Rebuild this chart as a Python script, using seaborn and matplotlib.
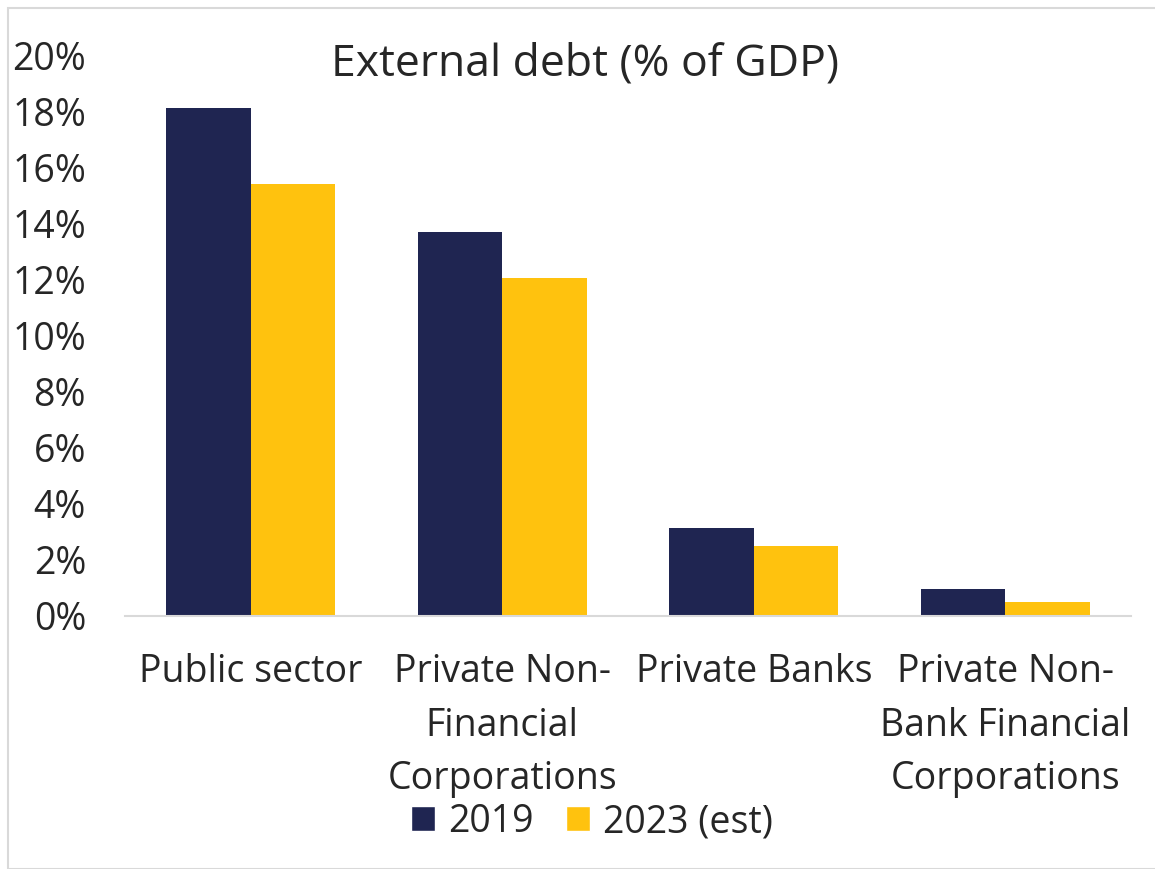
import matplotlib
matplotlib.use("Agg")
import matplotlib.pyplot as plt
import seaborn as sns
import pandas as pd
from matplotlib.patches import Rectangle, Patch

categories = ["Public sector", "Private Non-\nFinancial\nCorporations", "Private Banks",
              "Private Non-\nBank Financial\nCorporations"]
years = ["2019", "2023 (est)"]
values_2019 = [18.1, 13.7, 3.15, 0.98]
values_2023 = [15.4, 12.05, 2.5, 0.5]
yticks = [0, 2, 4, 6, 8, 10, 12, 14, 16, 18, 20]
colors = ["#1F2551", "#FFC20E"]

rows = []
for c, v in zip(categories, values_2019):
    rows.append({"cat": c, "year": years[0], "val": v})
for c, v in zip(categories, values_2023):
    rows.append({"cat": c, "year": years[1], "val": v})
df = pd.DataFrame(rows)

sns.set_theme(style="white")
plt.rcParams['font.family'] = ['Open Sans', 'DejaVu Sans']

FS = 27
fig = plt.figure(figsize=(11.55, 8.69), dpi=100)
ax = fig.add_axes([125/1155, 1-616/869, (1131-125)/1155, (616-55)/869])
sns.barplot(data=df, x="cat", y="val", hue="year", palette=colors, width=0.67,
            ax=ax, saturation=1, legend=False, linewidth=0)
ax.set_xlim(-0.5, 3.5)
ax.set_ylim(0, 20)
ax.set_yticks(yticks)
ax.set_yticklabels([f"{t}%" for t in yticks], fontsize=FS)
ax.tick_params(axis='y', length=0, pad=28)
ax.tick_params(axis='x', length=0, pad=27)
for lbl in ax.get_xticklabels():
    lbl.set_fontsize(FS)
    lbl.set_linespacing(1.53)
    lbl.set_verticalalignment('top')
ax.set_xlabel("")
ax.set_ylabel("")
for s in ["top", "right", "left"]:
    ax.spines[s].set_visible(False)
ax.spines["bottom"].set_color("#D9D9D9")
ax.spines["bottom"].set_linewidth(1.5)
ax.grid(False)

fig.text(585/1155, 1-64/869, "External debt (% of GDP)", ha="center", va="center", fontsize=32)

handles = [Patch(facecolor=colors[0]), Patch(facecolor=colors[1])]
fig.legend(handles, years, loc="center", bbox_to_anchor=(592/1155, 1-822/869), ncol=2,
           frameon=False, fontsize=FS, handlelength=0.65, handleheight=0.65,
           handletextpad=0.35, columnspacing=0.85)

fig.patches.append(Rectangle((8/1155, 0.0), 1.2, 1-8/869, transform=fig.transFigure,
                             fill=False, edgecolor="#D9D9D9", linewidth=1.5))

fig.savefig("out.png", dpi=100)
